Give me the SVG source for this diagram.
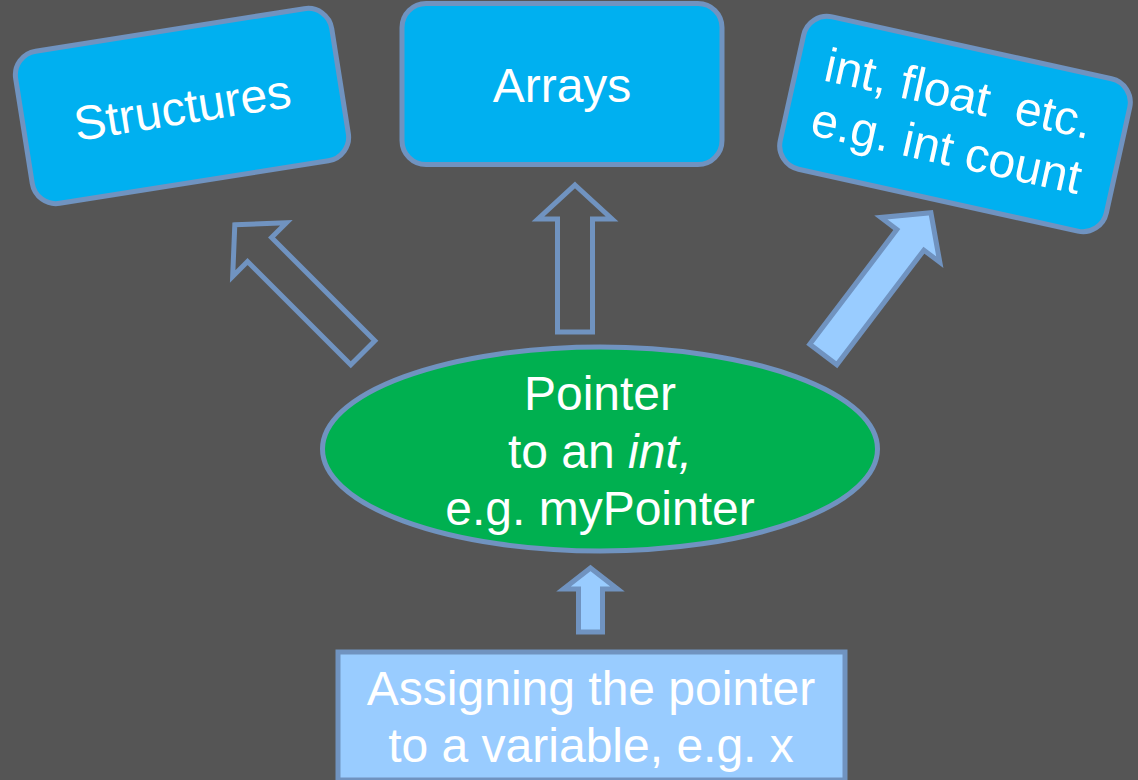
<svg xmlns="http://www.w3.org/2000/svg" width="1138" height="780" viewBox="0 0 1138 780">
  <defs>
    <style>
      .box { fill: #00b0f0; stroke: #7093c0; stroke-width: 5; }
      .oval { fill: #00b050; stroke: #7093c0; stroke-width: 5; }
      .src { fill: #99ccff; stroke: #7093c0; stroke-width: 5; }
      .hollow { fill: none; stroke: #7093c0; stroke-width: 5; stroke-linejoin: miter; }
      .solid { fill: #99ccff; stroke: #7093c0; stroke-width: 5; stroke-linejoin: miter; }
      .lbl { font-family: "Liberation Sans", Arial, sans-serif; font-size: 48px; fill: #ffffff; text-anchor: middle; white-space: pre; }
    </style>
  </defs>

  <rect x="0" y="0" width="1138" height="780" fill="#555555"/>

  <!-- connectors: block arrows, all drawn pointing up (tip at 0,0) and rotated into place -->
  <g id="connectors">
    <!-- pointer to structures -->
    <path class="hollow" transform="translate(234.8,224.8) rotate(-45)"
          d="M0,0 L38,35 L17,35 L17,181 L-17,181 L-17,35 L-38,35 Z"/>
    <!-- pointer to arrays -->
    <path class="hollow" transform="translate(575,185)"
          d="M0,0 L37,34 L17.5,34 L17.5,147 L-17.5,147 L-17.5,34 L-37,34 Z"/>
    <!-- pointer to basic types -->
    <path class="solid" transform="translate(930.9,212.8) rotate(37.2)"
          d="M0,0 L37,34 L17,34 L17,178 L-17,178 L-17,34 L-37,34 Z"/>
    <!-- assignment to pointer -->
    <path class="solid" d="M590.5,568 L617.5,589 L602.5,589 L602.5,632 L578.5,632 L578.5,589 L563.5,589 Z"/>
  </g>

  <g id="structures" transform="translate(182,106) rotate(-9)">
    <rect class="box" x="-160" y="-77" width="320" height="154" rx="24"/>
    <text class="lbl" x="0" y="18">Structures</text>
  </g>

  <g id="arrays">
    <rect class="box" x="402" y="3.5" width="320" height="161" rx="24"/>
    <text class="lbl" x="562" y="101.5">Arrays</text>
  </g>

  <g id="basic-types" transform="translate(955,124) rotate(12.5)">
    <rect class="box" x="-167" y="-78" width="334" height="156" rx="24"/>
    <text class="lbl" x="-3" y="-14">int, float  etc.</text>
    <text class="lbl" x="-3" y="42">e.g. int count</text>
  </g>

  <g id="pointer">
    <ellipse class="oval" cx="600" cy="449" rx="277.5" ry="102"/>
    <text class="lbl" x="600" y="410">Pointer</text>
    <text class="lbl" x="600" y="467.5">to an <tspan font-style="italic">int,</tspan></text>
    <text class="lbl" x="600" y="525">e.g. myPointer</text>
  </g>

  <g id="assignment">
    <rect class="src" x="338" y="652" width="507" height="128"/>
    <text class="lbl" x="591" y="705">Assigning the pointer</text>
    <text class="lbl" x="591" y="762">to a variable, e.g. x</text>
  </g>
</svg>
